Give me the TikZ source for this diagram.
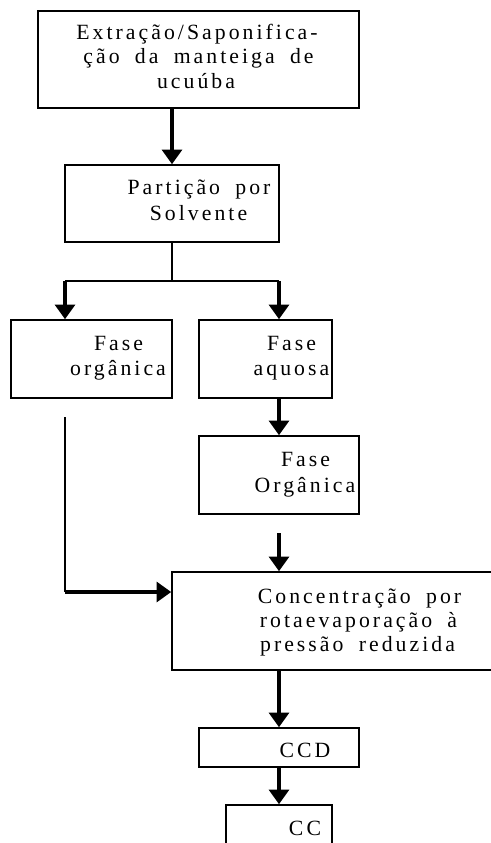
\documentclass[tikz,border=0pt]{standalone}
\usepackage{fontspec}
\newfontfamily\lsfont{Liberation Serif}[LetterSpace=14,WordSpace=1.8]
\usetikzlibrary{arrows.meta,fit}
\tikzset{
  box/.style={draw, line width=1.2pt, rectangle, inner sep=0pt},
  arr/.style={line width=2.5pt, -{Triangle[width=15pt,length=11pt]}},
  thinln/.style={line width=1.3pt},
  txt/.style={anchor=base, inner sep=0pt, font=\lsfont\fontsize{16.3}{19}\selectfont},
}
\begin{document}
\begin{tikzpicture}[x=0.75pt,y=-0.75pt]
\useasboundingbox (0,0) rectangle (491,843);
\clip (0,0) rectangle (491,843);
% x positions
\coordinate (cL) at (65,0);
\coordinate (cM) at (172,0);
\coordinate (cR) at (279,0);
% boxes
\node[box, fit={(38,11) (359,108)}] (b1) {};
\node[box, fit={(65,165) (279,242)}] (b2) {};
\node[box, fit={(11,320) (172,398)}] (b3) {};
\node[box, fit={(199,320) (332,398)}] (b4) {};
\node[box, fit={(199,436) (359,514)}] (b5) {};
\node[box, fit={(172,572) (510,670)}] (b6) {};
\node[box, fit={(199,728) (359,767)}] (b7) {};
\node[box, fit={(226,805) (332,860)}] (b8) {};
% texts
\node[txt] (t1a) at (197,39) {Extração/Saponifica-};
\node[txt] (t1b) at (198.5,63.5) {ção da manteiga de};
\node[txt] (t1c) at (196,88) {ucuúba};
\node[txt] (t2a) at (199,194) {Partição por};
\node[txt] (t2b) at (198.5,220) {Solvente};
\node[txt] (t3a) at (118.5,350) {Fase};
\node[txt] (t3b) at (118,375) {orgânica};
\node[txt] (t4a) at (291.5,350) {Fase};
\node[txt] (t4b) at (291.5,375) {aquosa};
\node[txt] (t5a) at (305.5,466) {Fase};
\node[txt] (t5b) at (305,492) {Orgânica};
\node[txt] (t6a) at (359.5,603) {Concentração por};
\node[txt] (t6b) at (358.5,627) {rotaevaporação à};
\node[txt] (t6c) at (357.5,651) {pressão reduzida};
\node[txt] (t7) at (305,757) {CCD};
\node[txt] (t8) at (305,835) {CC};
% connector helper points
\coordinate (split) at (172,281);
\coordinate (sL) at (65,281);
\coordinate (sR) at (279,281);
\coordinate (f1) at (279,533);
\coordinate (f2) at (65,417);
\coordinate (j) at (65,592);
% connectors
\draw[arr] (b1.south -| cM) -- (b2.north -| cM);
\draw[thinln] (b2.south -| cM) -- (split);
\draw[thinln] (sL) -- (sR);
\draw[arr] (sL) -- (b3.north -| sL);
\draw[arr] (sR) -- (b4.north -| sR);
\draw[arr] (b4.south -| cR) -- (b5.north -| cR);
\draw[arr] (f1) -- (b6.north -| f1);
\draw[thinln] (f2) -- (j);
\draw[arr] (j) -- (j -| b6.west);
\draw[arr] (b6.south -| cR) -- (b7.north -| cR);
\draw[arr] (b7.south -| cR) -- (b8.north -| cR);
\end{tikzpicture}
\end{document}
